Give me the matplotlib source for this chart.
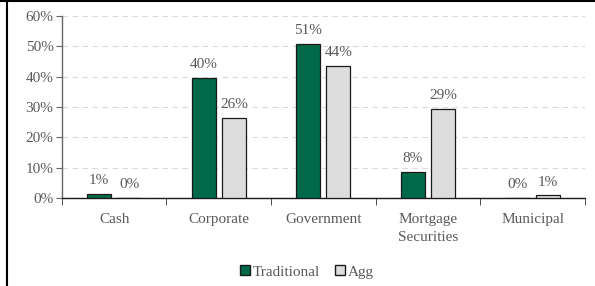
import numpy as np
import matplotlib
matplotlib.use("Agg")
import matplotlib.pyplot as plt
from matplotlib.lines import Line2D

categories = ["Cash", "Corporate", "Government", "Mortgage\nSecurities", "Municipal"]
traditional = [1.3, 39.6, 50.9, 8.4, 0.0]
agg = [0.0, 26.4, 43.6, 29.2, 0.8]
trad_labels = ["1%", "40%", "51%", "8%", "0%"]
agg_labels = ["0%", "26%", "44%", "29%", "1%"]

plt.rcParams['font.family'] = ['Liberation Serif', 'DejaVu Serif']
txt = '#595959'
fs = 11

fig = plt.figure(figsize=(5.95, 2.86), dpi=100)
ax = fig.add_axes([0.104, 0.308, 0.879, 0.636])

x = np.arange(len(categories))
w = 0.23
off = 0.144
ax.bar(x - off, traditional, w, color='#00694A', edgecolor='#1a1a1a', linewidth=0.9, label='Traditional', zorder=3)
ax.bar(x + off, agg, w, color='#DDDDDD', edgecolor='#1a1a1a', linewidth=0.9, label='Agg', zorder=3)

for xi, v, s in zip(x, traditional, trad_labels):
    ax.text(xi - off, v + 2.3, s, ha='center', va='bottom', fontsize=fs, color=txt)
for xi, v, s in zip(x, agg, agg_labels):
    ax.text(xi + off, v + 2.3, s, ha='center', va='bottom', fontsize=fs, color=txt)

ax.set_xlim(-0.5, len(categories) - 0.5)
ax.set_ylim(0, 60)
ax.set_yticks(range(0, 61, 10))
ax.set_yticklabels([f"{t}%" for t in range(0, 61, 10)], fontsize=fs, color=txt)
ax.yaxis.grid(True, linestyle=(0, (5, 4)), color='#d9d9d9', linewidth=0.8, zorder=0)
ax.set_axisbelow(True)

ax.set_xticks(x)
ax.set_xticklabels(categories, fontsize=fs, color=txt, linespacing=1.45)
ax.tick_params(axis='x', length=0, pad=11)
ax.set_xticks(np.arange(-0.5, len(categories), 1.0), minor=True)
ax.tick_params(axis='x', which='minor', length=5, color='#333333', direction='out')
ax.tick_params(axis='y', length=4, color='#666666', pad=2)

for s in ['top', 'right']:
    ax.spines[s].set_visible(False)
ax.spines['left'].set_color('#666666')
ax.spines['left'].set_linewidth(1.0)
ax.spines['bottom'].set_color('#1a1a1a')
ax.spines['bottom'].set_linewidth(1.0)

handles = [Line2D([], [], marker='s', linestyle='none', markersize=7.5, markerfacecolor='#00694A', markeredgecolor='#1a1a1a'),
           Line2D([], [], marker='s', linestyle='none', markersize=7.5, markerfacecolor='#DDDDDD', markeredgecolor='#1a1a1a')]
leg = fig.legend(handles, ['Traditional', 'Agg'], loc='center', bbox_to_anchor=(0.515, 0.05), ncol=2,
                 frameon=False, fontsize=fs, handletextpad=0.1, columnspacing=0.9, handlelength=0.8)
for t in leg.get_texts():
    t.set_color(txt)

# frame lines at top and left of the image
fig.add_artist(Line2D([0.0, 1.0], [0.998, 0.998], color='black', linewidth=1.5, transform=fig.transFigure))
fig.add_artist(Line2D([0.012, 0.012], [0.0, 1.0], color='black', linewidth=1.5, transform=fig.transFigure))

fig.savefig('out.png', dpi=100)
